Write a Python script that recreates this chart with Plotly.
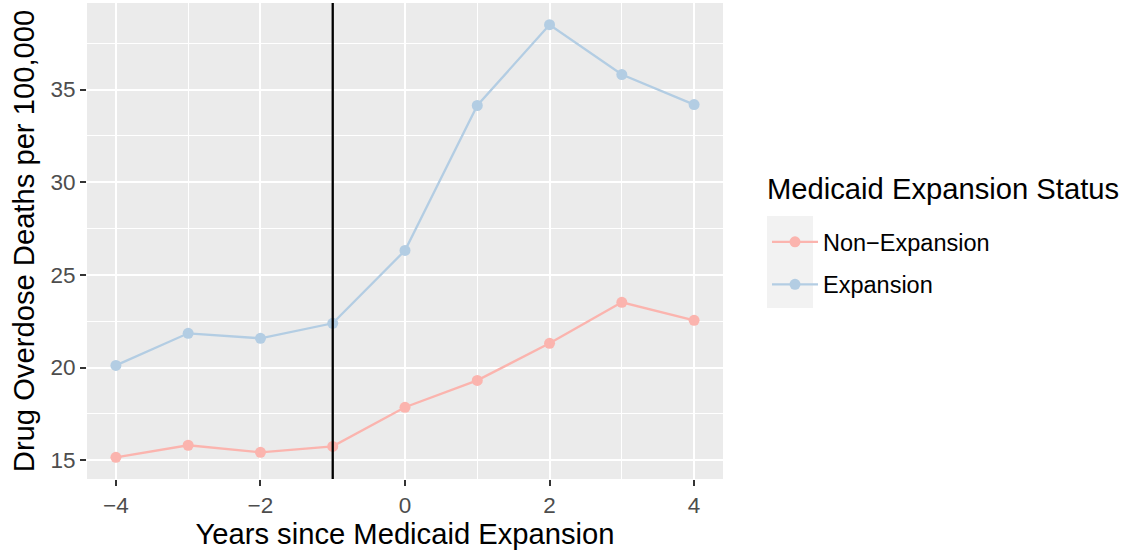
import plotly.graph_objects as go

years = [-4, -3, -2, -1, 0, 1, 2, 3, 4]
non_expansion = [15.16, 15.81, 15.43, 15.75, 17.86, 19.31, 21.31, 23.52, 22.55]
expansion = [20.12, 21.85, 21.58, 22.39, 26.32, 34.14, 38.50, 35.81, 34.19]
expansion_year = -1

series_names = ["Non\u2212Expansion", "Expansion"]
series_colors = ["#FBB4AE", "#B3CDE3"]
legend_title = "Medicaid Expansion Status"

FONT = "Liberation Sans, Arial, Helvetica, sans-serif"

L, R, T, B = 87, 402, 3, 71
PW, PH = 1125 - L - R, 550 - T - B


def px_x(px):
    return (px - L) / PW


def px_y(py):
    return (550 - B - py) / PH


fig = go.Figure()
for i, (name, vals, col) in enumerate(zip(series_names, [non_expansion, expansion], series_colors)):
    fig.add_trace(go.Scatter(
        x=years, y=vals, mode="lines+markers", name=name,
        line=dict(color=col, width=2.3),
        marker=dict(color=col, size=11),
        legendgroup=str(i),
    ))

fig.add_shape(type="line", x0=expansion_year, x1=expansion_year, y0=0, y1=1,
              xref="x", yref="paper", line=dict(color="black", width=2.3))

# legend key background
fig.add_shape(type="rect", xref="paper", yref="paper",
              x0=px_x(767), x1=px_x(813), y0=px_y(308), y1=px_y(216),
              fillcolor="#F2F2F2", line=dict(width=0), layer="below")

fig.add_annotation(text=legend_title, xref="paper", yref="paper",
                   x=px_x(765), y=px_y(189), xanchor="left", yanchor="middle",
                   showarrow=False, font=dict(family=FONT, size=29.2, color="black"))

axis_common = dict(
    showgrid=True, gridcolor="white", gridwidth=2,
    zeroline=False, showline=False, automargin=False,
    ticks="outside", ticklen=6, tickwidth=2, tickcolor="#333333",
    tickfont=dict(family=FONT, size=22.5, color="#4D4D4D"),
    title_font=dict(family=FONT, size=29.2, color="black"),
)

fig.update_xaxes(
    **axis_common,
    range=[-4.4, 4.4], tickvals=[-4, -2, 0, 2, 4],
    minor=dict(tickvals=[-3, -1, 1, 3], showgrid=True, gridcolor="white", gridwidth=1, ticks=""),
    title_text="Years since Medicaid Expansion", title_standoff=6,
)
fig.update_yaxes(
    **axis_common,
    range=[13.99, 39.67], tickvals=[15, 20, 25, 30, 35],
    minor=dict(tickvals=[17.5, 22.5, 27.5, 32.5, 37.5], showgrid=True, gridcolor="white", gridwidth=1, ticks=""),
    title_text="Drug Overdose Deaths per 100,000", title_standoff=7,
)

fig.update_layout(
    width=1125, height=550,
    margin=dict(l=L, r=R, t=T, b=B, autoexpand=False),
    plot_bgcolor="#EBEBEB", paper_bgcolor="white",
    font=dict(family=FONT),
    showlegend=True,
    legend=dict(
        font=dict(size=23.5, color="black"),
        x=px_x(767), y=px_y(220), xanchor="left", yanchor="top",
        bgcolor="rgba(0,0,0,0)", tracegroupgap=9, itemwidth=46,
    ),
)

fig.write_html("out.html", config={"displayModeBar": False},
               post_script="document.body.style.margin='0';document.body.style.overflow='hidden';")
